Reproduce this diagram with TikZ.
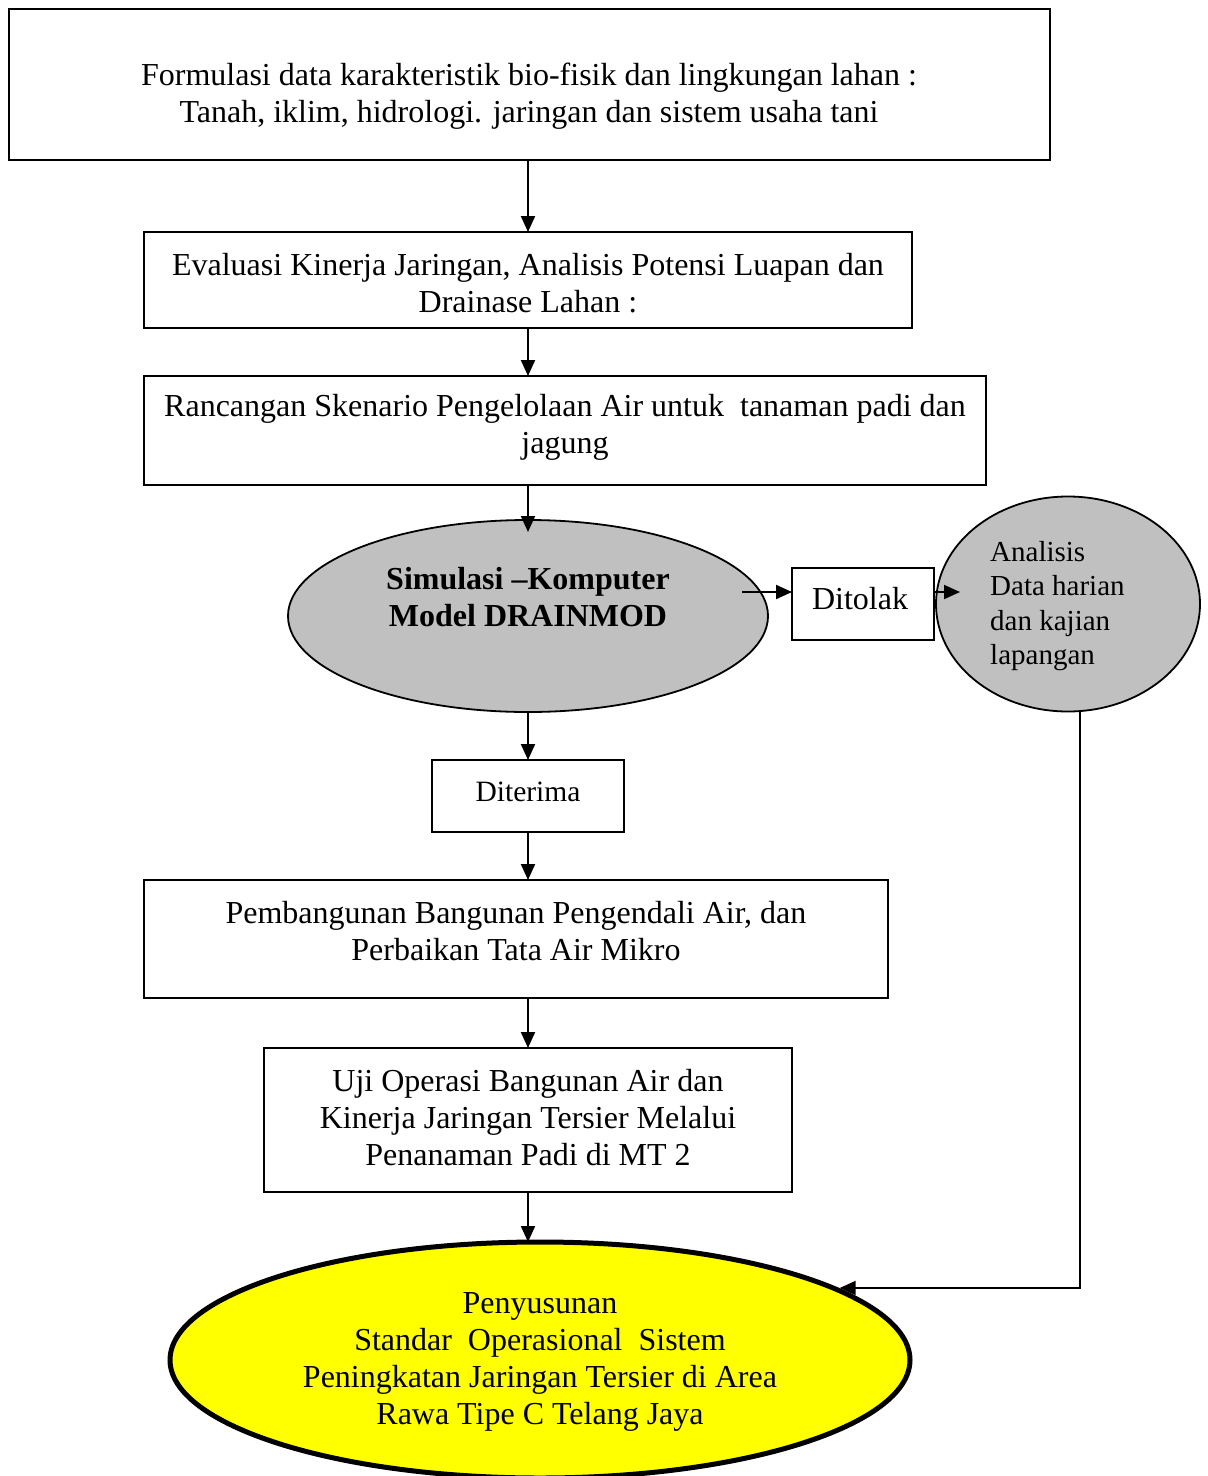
\documentclass[tikz,border=0pt]{standalone}
\usepackage{fontspec}
\setmainfont{Liberation Serif}
\usetikzlibrary{shapes.geometric,arrows.meta,calc}
\definecolor{greyfill}{HTML}{C0C0C0}
\definecolor{yel}{HTML}{FFFF00}
\begin{document}
\begin{tikzpicture}[x=1pt,y=-1pt,
  box/.style={draw,line width=1.8pt,inner sep=0pt,outer sep=0pt,anchor=north west},
  txt/.style={align=center,inner sep=0pt,font=\fontsize{32}{37}\selectfont},
  arr/.style={line width=2pt,-{Triangle[length=16pt,width=14pt]}},
  oval/.style={draw,ellipse,inner sep=0pt,outer sep=0pt,line width=1.8pt,fill=greyfill}]
\useasboundingbox (0,0) rectangle (1208,1476);
% boxes
\node[box,minimum width=1041pt,minimum height=151pt] (b1) at (9,9) {};
\node[txt] (t1) at (529,96) {Formulasi data karakteristik bio-fisik dan lingkungan lahan :\\Tanah, iklim, hidrologi. jaringan dan sistem usaha tani};
\node[box,minimum width=768pt,minimum height=96pt] (b2) at (144,232) {};
\node[txt] (t2) at (528,283) {Evaluasi Kinerja Jaringan, Analisis Potensi Luapan dan\\Drainase Lahan :};
\node[box,minimum width=842pt,minimum height=109pt] (b3) at (144,376) {};
\node[txt] (t3) at (565,427) {Rancangan Skenario Pengelolaan Air untuk\ \ tanaman padi dan\\jagung};
\node[oval,minimum width=480pt,minimum height=192pt] (e1) at (528,616) {};
\node[txt,font=\fontsize{32}{37}\selectfont\bfseries] (t4) at (528,597) {Simulasi –Komputer\\Model DRAINMOD};
\node[box,minimum width=142pt,minimum height=72pt] (dit) at (792,568) {};
\node[txt] (t5) at (860,599) {Ditolak};
\node[oval,minimum width=264pt,minimum height=215pt] (e2) at (1068,604) {};
\node[txt,align=left,anchor=west,font=\fontsize{29}{34.5}\selectfont] (t6) at (990,606) {Analisis\\Data harian\\dan kajian\\lapangan};
\node[box,minimum width=192pt,minimum height=72pt] (dtr) at (432,760) {};
\node[txt,font=\fontsize{29.5}{34}\selectfont] (t7) at (528,792) {Diterima};
\node[box,minimum width=744pt,minimum height=118pt] (b5) at (144,880) {};
\node[txt] (t8) at (516,931) {Pembangunan Bangunan Pengendali Air, dan\\Perbaikan Tata Air Mikro};
\node[box,minimum width=528pt,minimum height=144pt] (b6) at (264,1048) {};
\node[txt] (t9) at (528,1118) {Uji Operasi Bangunan Air dan\\Kinerja Jaringan Tersier Melalui\\Penanaman Padi di MT 2};
\node[draw,ellipse,inner sep=0pt,outer sep=0pt,line width=5pt,fill=yel,minimum width=740pt,minimum height=236pt] (e3) at (540,1360) {};
\node[txt] (t10) at (540,1362) {Penyusunan\\Standar\ \ Operasional\ \ Sistem\\Peningkatan Jaringan Tersier di Area\\Rawa Tipe C Telang Jaya};
% connectors
\coordinate (s1) at (742,592);
\coordinate (s2) at (960,592);
\coordinate (s3) at (528,532);
\coordinate (turn) at (1080,1288);
\draw[arr] (b1.south -| s3) -- (b2.north -| s3);
\draw[arr] (b2.south -| s3) -- (b3.north -| s3);
\draw[arr] (b3.south -| s3) -- (s3);
\draw[arr] (s1) -- (s1 -| dit.west);
\draw[arr] (dit.east |- s1) -- (s2);
\draw[arr] (e1.south -| s3) -- (dtr.north -| s3);
\draw[arr] (dtr.south -| s3) -- (b5.north -| s3);
\draw[arr] (b5.south -| s3) -- (b6.north -| s3);
\draw[arr] (b6.south -| s3) -- (e3.north -| s3);
\draw[arr] (e2.south -| turn) -- (turn) -- (e3.13 |- turn);
\end{tikzpicture}
\end{document}
